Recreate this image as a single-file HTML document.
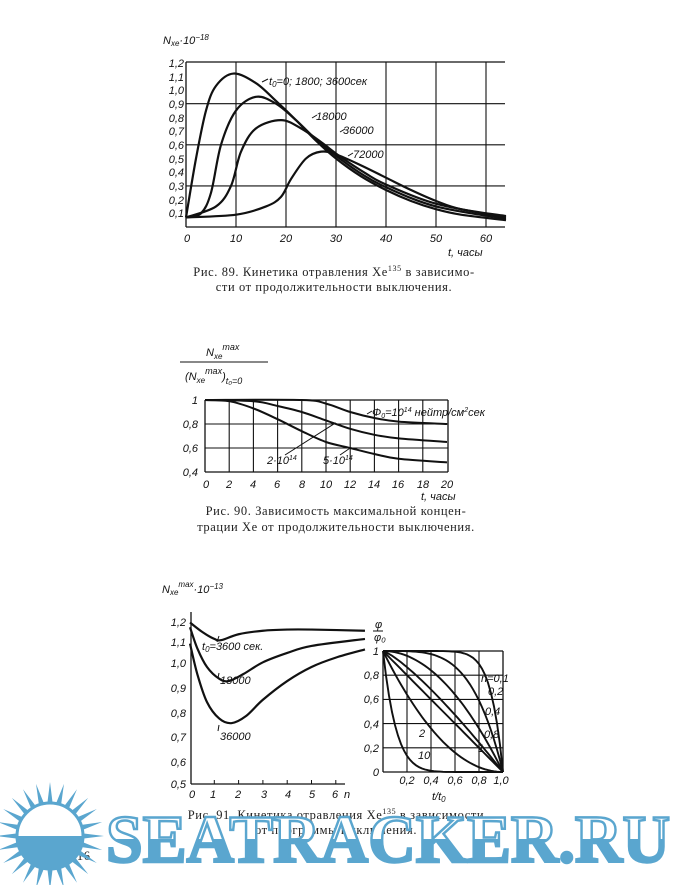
<!DOCTYPE html>
<html><head><meta charset="utf-8">
<style>
html,body{margin:0;padding:0;background:#fff;}
svg{display:block;}
.t{font-family:"Liberation Sans",sans-serif;font-style:italic;font-size:11px;fill:#111;}
.c{font-family:"Liberation Serif",serif;font-size:12.5px;fill:#222;letter-spacing:0.6px;}
</style></head><body>
<svg id="s" width="680" height="885" viewBox="0 0 680 885" xmlns="http://www.w3.org/2000/svg">
<defs>
<linearGradient id="wg" x1="0" y1="0" x2="0" y2="1">
<stop offset="0.5" stop-color="#fff"/><stop offset="0.5" stop-color="#5aa6cf"/>
</linearGradient>
</defs>
<g id="g" stroke="#111" fill="none" stroke-width="1.3"></g>

<text class="t" x="163" y="44">N<tspan font-size="8" dy="2">xe</tspan><tspan dy="-2">·10</tspan><tspan font-size="8" dy="-4">−18</tspan></text>
<g class="t" text-anchor="end">
<text x="184" y="67">1,2</text><text x="184" y="81">1,1</text><text x="184" y="94">1,0</text><text x="184" y="108">0,9</text><text x="184" y="122">0,8</text><text x="184" y="135">0,7</text><text x="184" y="149">0,6</text><text x="184" y="163">0,5</text><text x="184" y="176">0,4</text><text x="184" y="190">0,3</text><text x="184" y="204">0,2</text><text x="184" y="217">0,1</text>
</g>
<g class="t" text-anchor="middle">
<text x="187" y="242">0</text><text x="236" y="242">10</text><text x="286" y="242">20</text><text x="336" y="242">30</text><text x="386" y="242">40</text><text x="436" y="242">50</text><text x="486" y="242">60</text>
</g>
<text class="t" x="448" y="256" font-size="12">t, часы</text>
<text class="t" x="269" y="85">t<tspan font-size="8" dy="2">0</tspan><tspan dy="-2">=0; 1800; 3600сек</tspan></text>
<text class="t" x="316" y="120">18000</text>
<text class="t" x="343" y="134">36000</text>
<text class="t" x="353" y="158">72000</text>
<text class="c" x="334" y="276" text-anchor="middle">Рис. 89. Кинетика отравления Xe<tspan font-size="8" dy="-5">135</tspan><tspan dy="5"> в зависимо-</tspan></text>
<text class="c" x="334" y="291" text-anchor="middle">сти от продолжительности выключения.</text>

<text class="t" x="206" y="356">N<tspan font-size="8" dy="3">xe</tspan><tspan font-size="9" dy="-9">max</tspan></text>
<line x1="180" y1="362" x2="268" y2="362" stroke="#111" stroke-width="1"/>
<text class="t" x="185" y="380">(N<tspan font-size="8" dy="3">xe</tspan><tspan font-size="9" dy="-9">max</tspan><tspan dy="6">)</tspan><tspan font-size="9" dy="4">t₀=0</tspan></text>
<g class="t" text-anchor="end">
<text x="198" y="404">1</text><text x="198" y="428">0,8</text><text x="198" y="452">0,6</text><text x="198" y="476">0,4</text>
</g>
<g class="t" text-anchor="middle">
<text x="206" y="488">0</text><text x="229" y="488">2</text><text x="253" y="488">4</text><text x="277" y="488">6</text><text x="302" y="488">8</text><text x="326" y="488">10</text><text x="350" y="488">12</text><text x="374" y="488">14</text><text x="398" y="488">16</text><text x="423" y="488">18</text><text x="447" y="488">20</text>
</g>
<text class="t" x="421" y="500">t, часы</text>
<text class="t" x="372" y="416" font-size="10">Φ<tspan font-size="7" dy="2">0</tspan><tspan dy="-2">=10</tspan><tspan font-size="7" dy="-4">14</tspan><tspan dy="4"> нейтр/см</tspan><tspan font-size="7" dy="-4">2</tspan><tspan dy="4">сек</tspan></text>
<text class="t" x="267" y="464">2·10<tspan font-size="7" dy="-4">14</tspan></text>
<text class="t" x="323" y="464">5·10<tspan font-size="7" dy="-4">14</tspan></text>
<text class="c" x="336" y="515" text-anchor="middle">Рис. 90. Зависимость максимальной концен-</text>
<text class="c" x="336" y="531" text-anchor="middle">трации Xe от продолжительности выключения.</text>

<text class="t" x="162" y="593">N<tspan font-size="8" dy="2">xe</tspan><tspan font-size="8" dy="-8">max</tspan><tspan dy="6">·10</tspan><tspan font-size="8" dy="-4">−13</tspan></text>
<g class="t" text-anchor="end">
<text x="186" y="626">1,2</text><text x="186" y="646">1,1</text><text x="186" y="667">1,0</text><text x="186" y="692">0,9</text><text x="186" y="717">0,8</text><text x="186" y="741">0,7</text><text x="186" y="766">0,6</text><text x="186" y="788">0,5</text>
</g>
<g class="t" text-anchor="middle">
<text x="192" y="798">0</text><text x="213" y="798">1</text><text x="238" y="798">2</text><text x="264" y="798">3</text><text x="288" y="798">4</text><text x="312" y="798">5</text><text x="335" y="798">6</text><text x="347" y="798">n</text>
</g>
<text class="t" x="202" y="650">t<tspan font-size="8" dy="2">0</tspan><tspan dy="-2">=3600 сек.</tspan></text>
<text class="t" x="220" y="684">18000</text>
<text class="t" x="220" y="740">36000</text>
<text class="t" x="375" y="628" font-size="9">φ</text>
<line x1="373" y1="631" x2="383" y2="631" stroke="#111"/>
<text class="t" x="374" y="641" font-size="8">φ₀</text>
<g class="t" text-anchor="end">
<text x="379" y="655">1</text><text x="379" y="679">0,8</text><text x="379" y="703">0,6</text><text x="379" y="728">0,4</text><text x="379" y="752">0,2</text><text x="379" y="776">0</text>
</g>
<g class="t" text-anchor="middle">
<text x="407" y="784">0,2</text><text x="431" y="784">0,4</text><text x="455" y="784">0,6</text><text x="479" y="784">0,8</text><text x="501" y="784">1,0</text>
</g>
<text class="t" x="432" y="800">t/t<tspan font-size="8" dy="2">0</tspan></text>
<g class="t" font-size="8"><text x="481" y="682">n=0,1</text><text x="488" y="695">0,2</text><text x="485" y="715">0,4</text><text x="484" y="738">0,8</text><text x="478" y="752">1</text><text x="419" y="737">2</text><text x="418" y="759">10</text></g>
<text class="c" x="336" y="819" text-anchor="middle">Рис. 91. Кинетика отравления Xe<tspan font-size="8" dy="-5">135</tspan><tspan dy="5"> в зависимости</tspan></text>
<text class="c" x="336" y="834" text-anchor="middle">от программы выключения.</text>
<text class="c" x="70" y="860" font-size="14">216</text>

<g id="sun"></g>
<text x="106" y="862" textLength="564" lengthAdjust="spacingAndGlyphs" font-family="Liberation Serif,serif" font-weight="bold" font-size="68" fill="url(#wg)" stroke="#5aa6cf" stroke-width="2.5">SEATRACKER.RU</text>
</svg>
<script>
var g=document.getElementById('g'),NS="http://www.w3.org/2000/svg";
function P(d,w){var p=document.createElementNS(NS,'path');p.setAttribute('d',d);if(w)p.setAttribute('stroke-width',w);g.appendChild(p);}
function L(a,b,c,d,w){P('M'+a+' '+b+'L'+c+' '+d,w);}
function smooth(pts){var d='M'+pts[0][0]+' '+pts[0][1];for(var i=0;i<pts.length-1;i++){var p0=pts[i-1]||pts[i],p1=pts[i],p2=pts[i+1],p3=pts[i+2]||p2;d+='C'+(p1[0]+(p2[0]-p0[0])/6)+' '+(p1[1]+(p2[1]-p0[1])/6)+' '+(p2[0]-(p3[0]-p1[0])/6)+' '+(p2[1]-(p3[1]-p1[1])/6)+' '+p2[0]+' '+p2[1];}return d;}
var X1=function(t){return 186+5*t},Y1=function(v){return 227-137*v};
L(186,62,505,62);L(186,62,186,227);L(186,227,505,227);
[0.9,0.6,0.3].forEach(function(v){L(186,Y1(v),505,Y1(v),1.1)});
[10,20,30,40,50,60].forEach(function(t){L(X1(t),62,X1(t),227,1.1)});
[[[0,.07],[2,.5],[4,.85],[6,1.03],[9.5,1.12],[14,1.05],[18,.92],[22,.78],[26,.63],[30,.5],[35,.37],[40,.27],[45,.19],[50,.13],[55,.09],[64,.05]],
[[0,.07],[3,.1],[5,.25],[7,.6],[10,.85],[14,.95],[18,.9],[22,.78],[26,.64],[30,.52],[35,.39],[40,.29],[50,.15],[64,.06]],
[[0,.07],[6,.15],[9,.3],[11,.55],[14,.72],[19,.78],[23,.72],[27,.62],[31,.51],[36,.39],[40,.31],[50,.17],[64,.07]],
[[0,.07],[10,.09],[16,.15],[19,.22],[21,.35],[24,.5],[27,.55],[30,.53],[35,.45],[40,.36],[45,.27],[50,.19],[55,.13],[64,.08]]].forEach(function(c){P(smooth(c.map(function(p){return[X1(p[0]),Y1(p[1])]})),2.2)});
L(262,82,268,79,1);L(312,118,317,115,1);L(340,132,345,129,1);L(348,156,353,153,1);
var X2=function(t){return 205+12.1*t},Y2=function(v){return 400+(1-v)*120};
L(205,400,448,400);L(205,400,205,472);L(205,472,448,472);L(448,400,448,472);
[.8,.6].forEach(function(v){L(205,Y2(v),448,Y2(v),1.1)});
for(var t=2;t<20;t+=2)L(X2(t),400,X2(t),472,1.1);
[[[0,1],[8,1],[10,.97],[12,.9],[14,.85],[16,.82],[20,.8]],
[[0,1],[4,.99],[6,.95],[8,.9],[10,.83],[12,.76],[14,.71],[16,.68],[20,.65]],
[[0,1],[2,.99],[4,.93],[6,.84],[8,.74],[10,.65],[12,.6],[14,.55],[16,.51],[20,.48]]].forEach(function(c){P(smooth(c.map(function(p){return[X2(p[0]),Y2(p[1])]})),2)});
L(285,455,X2(10.8),Y2(.81),1);L(340,455,X2(12),Y2(.6),1);L(367,414,372,411,1);
var X3=function(n){return 190+24.3*n},Y3=function(v){return 667+(1-v)*234};
L(191,612,191,784);L(191,784,345,784);
for(var n=1;n<=6;n++)L(X3(n),780,X3(n),784,1);
[[[0,1.19],[.5,1.15],[1,1.12],[1.3,1.115],[2,1.14],[3,1.155],[4,1.16],[5,1.16],[7.2,1.155]],
[[0,1.17],[.3,1.08],[.7,1.0],[1.2,.95],[1.6,.94],[2.2,.97],[3,1.02],[4,1.06],[5,1.09],[7.2,1.12]],
[[0,1.1],[.3,.97],[.7,.85],[1.2,.78],[1.7,.76],[2.3,.79],[3,.86],[4,.94],[5,1.0],[6,1.04],[7.2,1.075]]].forEach(function(c){P(smooth(c.map(function(p){return[X3(p[0]),Y3(p[1])]})),2.2)});
L(217,642,219,636,1);L(218,678,219,673,1);L(218,731,219,725,1);
var X4=function(t){return 383+120*t},Y4=function(v){return 772-121*v};
L(383,651,503,651);L(383,651,383,772);L(383,772,503,772);L(503,651,503,772);
for(var i=1;i<5;i++){L(X4(i/5),651,X4(i/5),772,1.1);L(383,Y4(i/5),503,Y4(i/5),1.1);}
[function(t){return 1-Math.pow(t,10)},function(t){return 1-Math.pow(t,4)},function(t){return 1-Math.pow(t,2)},function(t){return 1-Math.pow(t,1.25)},function(t){return 1-t},function(t){return Math.pow(1-t,2)},function(t){return Math.pow(1-t,9)}].forEach(function(f){var pts=[];for(var i=0;i<=40;i++){var t=i/40;pts.push([X4(t),Y4(f(t))]);}P('M'+pts.map(function(p){return p[0].toFixed(1)+' '+p[1].toFixed(1)}).join('L'),1.9)});
var sun=document.getElementById('sun'),cx=50,cy=836,d='';
for(var k=0;k<24;k++){var a=k*Math.PI/12,a1=a-0.1,a2=a+0.1;d+='M'+(cx+30*Math.cos(a1))+' '+(cy+30*Math.sin(a1))+'L'+(cx+54*Math.cos(a))+' '+(cy+54*Math.sin(a))+'L'+(cx+30*Math.cos(a2))+' '+(cy+30*Math.sin(a2))+'Z';}
var r=document.createElementNS(NS,'path');r.setAttribute('d',d);r.setAttribute('fill','#5aa6cf');sun.appendChild(r);
var c=document.createElementNS(NS,'circle');c.setAttribute('cx',cx);c.setAttribute('cy',cy);c.setAttribute('r',33);c.setAttribute('fill','url(#wg)');c.setAttribute('stroke','#5aa6cf');c.setAttribute('stroke-width','3');sun.appendChild(c);
</script>
</body></html>
